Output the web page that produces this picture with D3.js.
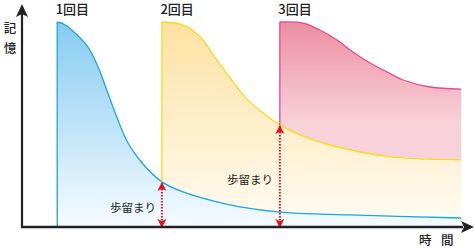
<!DOCTYPE html>
<html lang="ja">
<head>
<meta charset="utf-8">
<title>記憶と歩留まり</title>
<script src="https://cdn.jsdelivr.net/npm/d3@7"></script>
<style>
    body { margin: 0; background: #fff; }
    svg { display: block; }
    text { font-family: "Noto Sans CJK JP", "Noto Sans", sans-serif; fill: #222; }
</style>
</head>
<body>
<div id="chart"></div>
<script>
"use strict";
// time (0-100) vs memory (0-100)
var blueT   = [8, 9.5, 11.3, 15, 17.3, 19.5, 21.8, 24.1, 27.3, 31.8, 36.6, 44.3, 49.5, 58.6, 74.5, 99.8];
var blueM   = [100, 99, 96.1, 87.8, 78, 65.4, 52.2, 41, 31.2, 22, 17.1, 12.2, 9.8, 7.3, 5.9, 4.4];
var yellowT = [31.8, 36.6, 40.5, 44.3, 51.1, 54.5, 58.6, 63.2, 70, 82.5, 99.8];
var yellowM = [100, 98.5, 92.7, 81.5, 62.4, 56.1, 49.8, 44.9, 40, 34.6, 32.7];
var pinkT   = [58.6, 63.9, 67.7, 71.6, 75.2, 79.1, 83, 86.6, 92.7, 99.8];
var pinkM   = [100, 99.5, 96.1, 91.2, 85.4, 80, 75.6, 71.7, 68.3, 67.3];
var roundLabels = ["1回目", "2回目", "3回目"];
var yieldLabel = "歩留まり";
var yLabel = ["記", "憶"];
var xLabel = ["時", "間"];

var width = 474, height = 250;
var x = d3.scaleLinear().domain([0, 100]).range([22, 462]);
var y = d3.scaleLinear().domain([0, 100]).range([227, 22]);

var svg = d3.select("#chart").append("svg")
    .attr("width", width)
    .attr("height", height);

var defs = svg.append("defs");
function grad(id, c0, c1, y0, y1) {
    var g = defs.append("linearGradient")
        .attr("id", id)
        .attr("gradientUnits", "userSpaceOnUse")
        .attr("x1", 0).attr("x2", 0)
        .attr("y1", y0).attr("y2", y1);
    g.append("stop").attr("offset", 0).attr("stop-color", c0);
    g.append("stop").attr("offset", 1).attr("stop-color", c1);
}
grad("gBlue", "#86cbef", "#f6fbff", y(100), y(0));
grad("gYellow", "#fde1a2", "#fffcf4", y(100), y(0));
grad("gPink", "#ed8ea3", "#f8d2da", y(100), y(yellowM[6]));

var arrowColor = "#e3101c";
defs.append("marker")
    .attr("id", "redHead")
    .attr("viewBox", "0 0 10 10")
    .attr("refX", 9).attr("refY", 5)
    .attr("markerWidth", 9).attr("markerHeight", 9)
    .attr("markerUnits", "userSpaceOnUse")
    .attr("orient", "auto-start-reverse")
    .append("path")
    .attr("d", "M0,0 L10,5 L0,10 L2.5,5 Z")
    .attr("fill", arrowColor);

function zip(ts, ms) { return ts.map(function (t, i) { return [t, ms[i]]; }); }
var blue = zip(blueT, blueM), yellow = zip(yellowT, yellowM), pink = zip(pinkT, pinkM);

var curve = d3.curveCatmullRom.alpha(0.5);
var area = d3.area().curve(curve)
    .x(function (d) { return x(d[0]); })
    .y0(y(0))
    .y1(function (d) { return y(d[1]); });
var line = d3.line().curve(curve)
    .x(function (d) { return x(d[0]); })
    .y(function (d) { return y(d[1]); });

// fills, back to front
svg.append("path").attr("d", area(pink)).attr("fill", "url(#gPink)");
svg.append("path").attr("d", area(yellow)).attr("fill", "url(#gYellow)");
svg.append("path").attr("d", area(blue)).attr("fill", "url(#gBlue)");

// outlines
var series = [
    { pts: blue, base: 0, color: "#1ba5e1" },
    { pts: yellow, base: blueM[9], color: "#f7da1c" },
    { pts: pink, base: yellowM[6], color: "#e8488a" }
];
series.forEach(function (s) {
    var t0 = s.pts[0][0];
    svg.append("line")
        .attr("x1", x(t0)).attr("x2", x(t0))
        .attr("y1", y(s.base)).attr("y2", y(100))
        .attr("stroke", s.color).attr("stroke-width", 1.3);
    svg.append("path").attr("d", line(s.pts))
        .attr("fill", "none").attr("stroke", s.color).attr("stroke-width", 1.3);
});

// yield arrows
var yields = [[yellowT[0], blueM[9]], [pinkT[0], yellowM[6]]];
svg.selectAll(".yarrow").data(yields).enter().append("line")
    .attr("class", "yarrow")
    .attr("x1", function (d) { return x(d[0]); })
    .attr("x2", function (d) { return x(d[0]); })
    .attr("y1", function (d) { return y(d[1]) + 1; })
    .attr("y2", y(0))
    .attr("stroke", arrowColor)
    .attr("stroke-width", 2)
    .attr("stroke-dasharray", "1.5,1.5")
    .attr("marker-start", "url(#redHead)")
    .attr("marker-end", "url(#redHead)");

// axes
var axisColor = "#222";
svg.append("line").attr("x1", x(0)).attr("x2", x(0)).attr("y1", y(0) + 1).attr("y2", 14)
    .attr("stroke", axisColor).attr("stroke-width", 2.2);
svg.append("path").attr("d", "M" + x(0) + ",4 L" + (x(0) + 6) + ",17 L" + x(0) + ",14 L" + (x(0) - 6) + ",17 Z")
    .attr("fill", axisColor);
svg.append("line").attr("x1", x(0) - 1).attr("x2", 463).attr("y1", y(0)).attr("y2", y(0))
    .attr("stroke", axisColor).attr("stroke-width", 2.4);
svg.append("path").attr("d", "M474," + y(0) + " L461," + (y(0) - 6) + " L464," + y(0) + " L461," + (y(0) + 6) + " Z")
    .attr("fill", axisColor);

// texts
svg.selectAll(".ylab").data(yLabel).enter().append("text")
    .attr("class", "ylab")
    .attr("x", 10).attr("y", function (d, i) { return 33 + i * 20; })
    .attr("text-anchor", "middle")
    .style("font-size", "12.5px").style("font-weight", 500)
    .text(function (d) { return d; });
svg.selectAll(".xlab").data(xLabel).enter().append("text")
    .attr("class", "xlab")
    .attr("x", function (d, i) { return 419 + i * 22; }).attr("y", 245)
    .style("font-size", "12.5px").style("font-weight", 500)
    .text(function (d) { return d; });

var starts = [blueT[0], yellowT[0], pinkT[0]];
svg.selectAll(".round").data(roundLabels).enter().append("text")
    .attr("class", "round")
    .attr("x", function (d, i) { return x(starts[i]) - 1.5; })
    .attr("y", 14)
    .style("font-size", "13px").style("font-weight", 500)
    .text(function (d) { return d; });

svg.append("text").attr("x", 156).attr("y", 212).attr("text-anchor", "end")
    .style("font-size", "11.5px").text(yieldLabel);
svg.append("text").attr("x", 273).attr("y", 184).attr("text-anchor", "end")
    .style("font-size", "11.5px").text(yieldLabel);
</script>
</body>
</html>
